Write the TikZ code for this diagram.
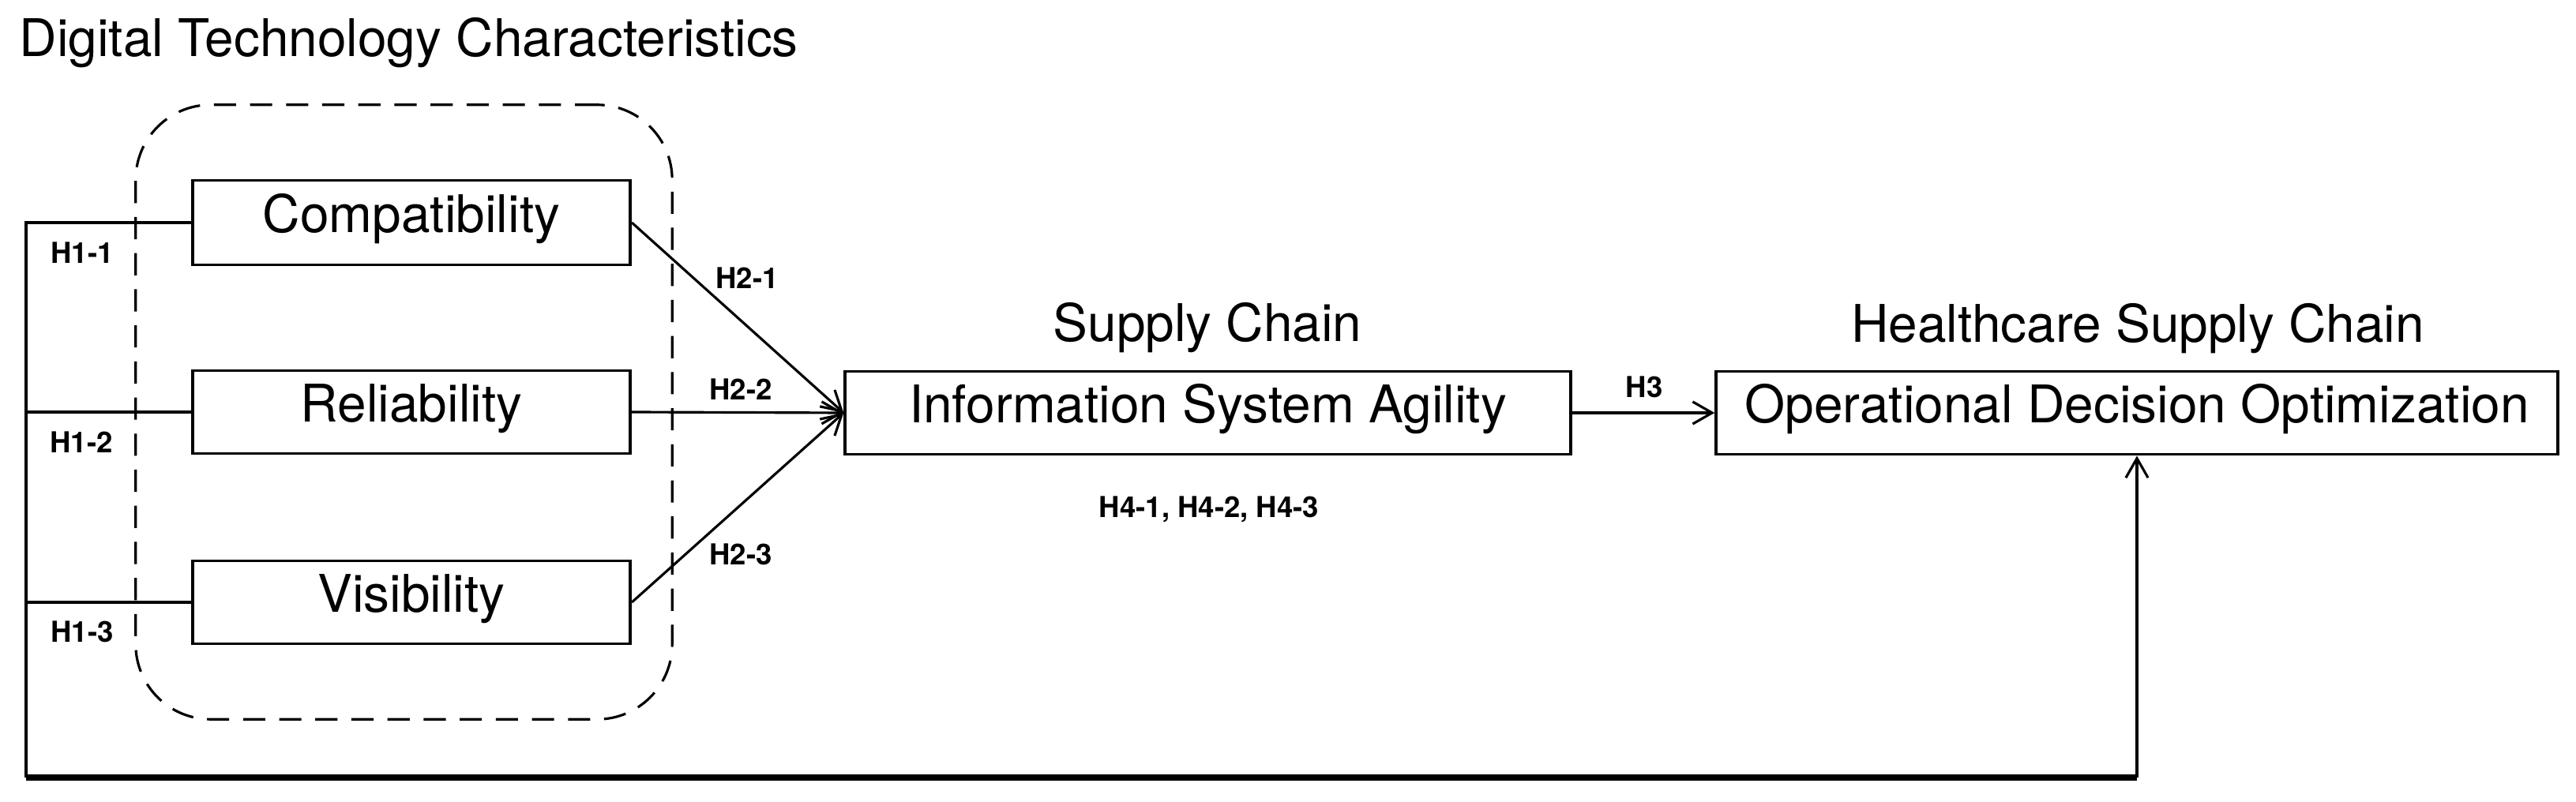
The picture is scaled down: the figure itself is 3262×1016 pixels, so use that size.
\documentclass[tikz,border=0pt]{standalone}
\usepackage{fontspec}
\setmainfont{TeX Gyre Heros}
\usetikzlibrary{arrows.meta}
\begin{document}
\begin{tikzpicture}[x=0.01cm,y=-0.01cm,
  box/.style={draw, line width=1.1pt, inner sep=0pt, text height=0.93em, text depth=0.23em, font=\fontsize{18.7}{22}\selectfont},
  ttl/.style={inner sep=0pt, font=\fontsize{18.7}{22}\selectfont},
  lab/.style={inner sep=0pt, font=\bfseries\fontsize{10.4}{12}\selectfont},
  conn/.style={line width=0.9pt},
  arr/.style={conn, -{Straight Barb[length=7pt,width=8pt]}},
  grp/.style={draw, line width=0.9pt, dash pattern=on 8pt off 5pt, rounded corners=0.95cm}]
\useasboundingbox (0,0) rectangle (3262,1016);

\node[grp, minimum width=6.79cm, minimum height=7.78cm] (group) at (511.5,522) {};

\node[box, minimum width=5.54cm, minimum height=1.07cm] (comp) at (521,282) {Compatibility};
\node[box, minimum width=5.54cm, minimum height=1.05cm] (rel) at (521,522) {Reliability};
\node[box, minimum width=5.54cm, minimum height=1.05cm] (vis) at (521,763) {Visibility};
\node[box, minimum width=9.18cm, minimum height=1.05cm] (isa) at (1529.5,523) {Information System Agility};
\node[box, minimum width=10.65cm, minimum height=1.05cm] (odo) at (2706,523) {Operational Decision Optimization};

\node[ttl, anchor=base west] (t1) at (24,72) {Digital Technology Characteristics};
\node[ttl, anchor=base] (t2) at (1529,433) {Supply Chain};
\node[ttl, anchor=base] (t3) at (2707,434) {Healthcare Supply Chain};

\coordinate (L) at (33,985);
\draw[conn] (comp.west) -- (comp.west -| L) -- (L);
\draw[conn] (rel.west) -- (rel.west -| L);
\draw[conn] (vis.west) -- (vis.west -| L);
\draw[line width=2pt] (L) -- (L -| odo.south);
\draw[arr] (L -| odo.south) -- (odo.south);

\draw[arr] (comp.east) -- (isa.west);
\draw[arr] (rel.east) -- (isa.west);
\draw[arr] (vis.east) -- (isa.west);
\draw[arr] (isa.east) -- (odo.west);

\node[lab] (h11) at (104,320) {H1-1};
\node[lab] (h12) at (103,560) {H1-2};
\node[lab] (h13) at (104,800) {H1-3};
\node[lab] (h21) at (946,352) {H2-1};
\node[lab] (h22) at (938,493) {H2-2};
\node[lab] (h23) at (938,702) {H2-3};
\node[lab] (h3) at (2082,490) {H3};
\node[lab] (h4) at (1531,645) {H4-1, H4-2, H4-3};
\end{tikzpicture}
\end{document}
